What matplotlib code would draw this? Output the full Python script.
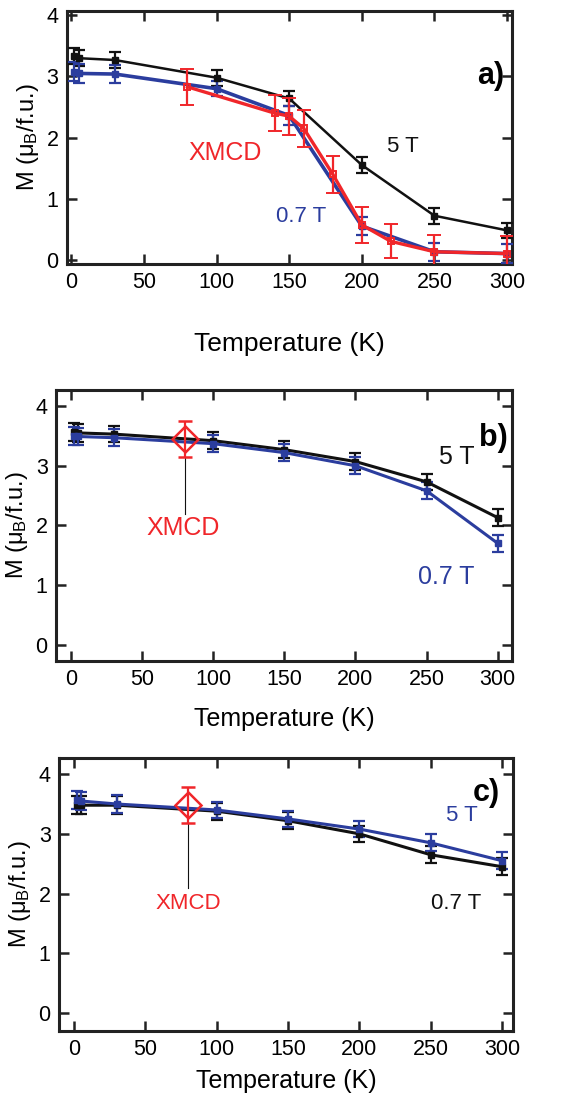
import numpy as np
import matplotlib
matplotlib.use("Agg")
import matplotlib.pyplot as plt

plt.rcParams['font.family'] = ['Liberation Sans', 'DejaVu Sans']
plt.rcParams['mathtext.fontset'] = 'custom'
plt.rcParams['mathtext.rm'] = 'Liberation Sans'
plt.rcParams['mathtext.it'] = 'Liberation Sans:italic'

BLACK = '#111111'
BLUE = '#2b3d9e'
RED = '#f0262a'

# panel a
a_T = [2, 5, 30, 100, 150, 200, 250, 300]
a_5T = [3.33, 3.30, 3.27, 2.98, 2.64, 1.55, 0.72, 0.48]
a_5T_err = [0.13, 0.13, 0.13, 0.13, 0.12, 0.13, 0.13, 0.12]
a_07T = [3.08, 3.05, 3.04, 2.80, 2.36, 0.55, 0.13, 0.10]
a_07T_err = [0.15, 0.15, 0.14, 0.12, 0.15, 0.15, 0.15, 0.15]
a_xm_T = [80, 140, 150, 160, 180, 200, 220, 250, 300]
a_xm = [2.83, 2.40, 2.35, 2.15, 1.40, 0.57, 0.30, 0.13, 0.10]
a_xm_err = [0.30, 0.30, 0.30, 0.30, 0.30, 0.30, 0.28, 0.28, 0.28]

# panel b
b_T = [2, 5, 30, 100, 150, 200, 250, 300]
b_5T = [3.56, 3.55, 3.53, 3.42, 3.27, 3.07, 2.73, 2.13]
b_07T = [3.50, 3.49, 3.47, 3.37, 3.22, 3.00, 2.58, 1.70]
b_err = [0.15, 0.15, 0.14, 0.14, 0.14, 0.14, 0.14, 0.14]
b_xm_T = [80]
b_xm = [3.45]
b_xm_err = [0.30]

# panel c
c_T = [2, 5, 30, 100, 150, 200, 250, 300]
c_5T = [3.56, 3.55, 3.50, 3.40, 3.25, 3.08, 2.85, 2.55]
c_07T = [3.48, 3.48, 3.48, 3.38, 3.22, 3.00, 2.65, 2.45]
c_err = [0.15, 0.15, 0.15, 0.14, 0.14, 0.14, 0.14, 0.14]
c_xm_T = [80]
c_xm = [3.48]
c_xm_err = [0.30]

xticks = [0, 50, 100, 150, 200, 250, 300]
yticks = [0, 1, 2, 3, 4]
ylabel = 'M (μ$_\\mathrm{B}$/f.u.)'


def style(ax, xlim, ylim):
    ax.set_xlim(*xlim)
    ax.set_ylim(*ylim)
    ax.set_xticks(xticks)
    ax.set_yticks(yticks)
    ax.tick_params(direction='in', top=True, right=True, length=7, width=1.8,
                   labelsize=15.5, pad=6, color='#222222')
    for s in ax.spines.values():
        s.set_linewidth(2.2)
        s.set_color('#222222')
    ax.set_ylabel(ylabel, fontsize=17, labelpad=4)


def series(ax, x, y, e, color, lw=2.0):
    ax.errorbar(x, y, yerr=e, color=color, lw=lw, marker='s', ms=4,
                elinewidth=1.6, capsize=4, capthick=1.6, zorder=3)


fig = plt.figure(figsize=(5.82, 11.04), dpi=100)

# ---- a)
ax = fig.add_axes([0.115, 0.7609, 0.765, 0.229])
series(ax, a_T, a_5T, a_5T_err, BLACK, lw=1.8)
series(ax, a_T, a_07T, a_07T_err, BLUE, lw=2.6)
ax.errorbar(a_xm_T, a_xm, yerr=a_xm_err, color=RED, lw=2.4, marker='s', ms=5,
            mfc='none', mew=1.4, elinewidth=1.6, capsize=5, capthick=1.6, zorder=4)
style(ax, (-3, 303.5), (-0.07, 4.07))
ax.set_xlabel('Temperature (K)', fontsize=19, labelpad=28)
ax.text(289, 3.0, 'a)', fontsize=22, fontweight='bold', ha='center', va='center')
ax.text(228, 1.86, '5 T', fontsize=16, color=BLACK, ha='center', va='center')
ax.text(106, 1.75, 'XMCD', fontsize=18, color=RED, ha='center', va='center')
ax.text(158, 0.7, '0.7 T', fontsize=16, color=BLUE, ha='center', va='center')

# ---- b)
ax = fig.add_axes([0.0962, 0.4013, 0.7835, 0.2455])
series(ax, b_T, b_5T, b_err, BLACK, lw=2.2)
series(ax, b_T, b_07T, b_err, BLUE, lw=2.2)
ax.errorbar(b_xm_T, b_xm, yerr=b_xm_err, color=RED, lw=0, marker='D', ms=13,
            mfc='none', mew=1.8, elinewidth=1.6, capsize=5, capthick=1.6, zorder=4)
ax.plot([80, 80], [b_xm[0] - 0.3, 2.2], color=BLACK, lw=0.8)
style(ax, (-10.5, 310), (-0.27, 4.27))
ax.set_xlabel('Temperature (K)', fontsize=18, labelpad=12)
ax.text(79, 1.96, 'XMCD', fontsize=18, color=RED, ha='center', va='center')
ax.text(271, 3.15, '5 T', fontsize=18, color=BLACK, ha='center', va='center')
ax.text(264, 1.13, '0.7 T', fontsize=18, color=BLUE, ha='center', va='center')
ax.text(297, 3.47, 'b)', fontsize=22, fontweight='bold', ha='center', va='center')

# ---- c)
ax = fig.add_axes([0.1014, 0.0661, 0.780, 0.2473])
series(ax, c_T, c_07T, c_err, BLACK, lw=2.2)
series(ax, c_T, c_5T, c_err, BLUE, lw=2.2)
ax.errorbar(c_xm_T, c_xm, yerr=c_xm_err, color=RED, lw=0, marker='D', ms=13,
            mfc='none', mew=1.8, elinewidth=1.6, capsize=5, capthick=1.6, zorder=4)
ax.plot([80, 80], [c_xm[0] - 0.3, 2.1], color=BLACK, lw=0.8)
style(ax, (-10.5, 307.6), (-0.3, 4.27))
ax.set_xlabel('Temperature (K)', fontsize=18, labelpad=6)
ax.text(80, 1.84, 'XMCD', fontsize=16, color=RED, ha='center', va='center')
ax.text(272, 3.3, '5 T', fontsize=16, color=BLUE, ha='center', va='center')
ax.text(268, 1.84, '0.7 T', fontsize=16, color=BLACK, ha='center', va='center')
ax.text(289, 3.68, 'c)', fontsize=22, fontweight='bold', ha='center', va='center')

fig.savefig('out.png', dpi=100)
